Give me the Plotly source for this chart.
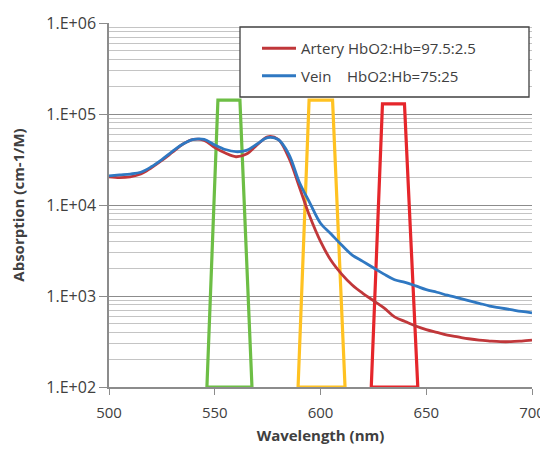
import plotly.graph_objects as go

wavelength = [500, 505, 510, 515, 520, 525, 530, 535, 540, 545, 550, 555, 560, 565, 570, 575,
              580, 585, 590, 595, 600, 605, 610, 615, 620, 625, 630, 635, 640, 645, 650, 655,
              660, 665, 670, 675, 680, 685, 690, 695, 700]

artery = [20400, 20000, 20400, 21900, 25700, 30900, 38000, 46800, 52500, 51300, 42700, 37200,
          33900, 36300, 45700, 56200, 52500, 33100, 15800, 7410, 3980, 2450, 1740, 1320, 1070,
          891, 741, 589, 525, 468, 427, 398, 372, 355, 339, 327, 320, 315, 315, 320, 327]

vein = [20900, 21400, 21900, 22900, 26300, 31600, 38900, 46800, 52500, 52500, 45700, 40700,
        38500, 39800, 46800, 55000, 52500, 36300, 17800, 10500, 6310, 4790, 3630, 2820, 2400,
        2040, 1740, 1510, 1410, 1290, 1175, 1100, 1020, 955, 891, 832, 776, 741, 708, 676, 653]

# filter passbands (trapezoids): bottom-left, top-left, top-right, bottom-right
filter_x = [[546.3, 551.5, 561.9, 567.6], [589.4, 594.6, 605.7, 611.6], [624.0, 629.3, 639.7, 646.0]]
filter_y = [[100, 142000, 142000, 100], [100, 142000, 142000, 100], [100, 129000, 129000, 100]]
filter_colors = ["#6DBE45", "#FFC222", "#E5262B"]

y_ticks = [100, 1000, 10000, 100000, 1000000]
y_labels = ["1.E+02", "1.E+03", "1.E+04", "1.E+05", "1.E+06"]
x_ticks = [500, 550, 600, 650, 700]

fig = go.Figure()

for fx, fy, col in zip(filter_x, filter_y, filter_colors):
    fig.add_trace(go.Scatter(x=fx + [fx[0]], y=fy + [fy[0]], mode="lines",
                             line=dict(color=col, width=3.2), showlegend=False,
                             hoverinfo="skip"))

fig.add_trace(go.Scatter(x=wavelength, y=artery, mode="lines",
                         line=dict(color="#C0373A", width=2.8, shape="spline"),
                         name="Artery HbO2:Hb=97.5:2.5", legendgroup="a"))
fig.add_trace(go.Scatter(x=wavelength, y=vein, mode="lines",
                         line=dict(color="#2F78C2", width=2.8, shape="spline"),
                         name="Vein&nbsp;&nbsp;&nbsp;&nbsp;HbO2:Hb=75:25", legendgroup="v"))

minor_vals = [m * 10 ** e for e in range(2, 6) for m in range(2, 10)]

# page body has an 8px margin: figure sized to fit the window
W, H = 540, 443
L, R, T, B = 101, 16, 15, 64
pw, ph = W - L - R, H - T - B


def px(x):
    return (x - 8 - L) / pw


def py(y):
    return 1 - (y - 8 - T) / ph


fig.update_layout(
    width=W, height=H,
    margin=dict(l=L, r=R, t=T, b=B),
    paper_bgcolor="white", plot_bgcolor="white",
    font=dict(family="Open Sans", color="#404040", size=15),
    legend=dict(x=px(257), y=py(32), xanchor="left", yanchor="top",
                borderwidth=0, bgcolor="rgba(0,0,0,0)",
                font=dict(size=15, color="#404040"), itemwidth=34,
                tracegroupgap=5),
    shapes=[dict(type="rect", xref="paper", yref="paper",
                 x0=px(240), x1=px(529), y0=py(97), y1=py(27),
                 line=dict(color="#404040", width=1.3), fillcolor="white", layer="above")],
    xaxis=dict(range=[500, 700], tickvals=x_ticks, showgrid=False, automargin=False,
               showline=True, linecolor="#8C8C8C", linewidth=1.5,
               ticks="outside", ticklen=6, tickcolor="#8C8C8C", ticklabelstandoff=5,
               tickfont=dict(size=15, color="#404040"),
               title=dict(text="<b>Wavelength (nm)</b>", font=dict(size=15, color="#404040"), standoff=10),
               zeroline=False),
    yaxis=dict(type="log", range=[2, 6], tickvals=y_ticks, ticktext=y_labels, automargin=False,
               showgrid=True, gridcolor="#8C8C8C", gridwidth=1.2,
               showline=True, linecolor="#8C8C8C", linewidth=1.5,
               ticks="outside", ticklen=8, tickcolor="#8C8C8C",
               tickfont=dict(size=16, color="#404040"),
               minor=dict(tickvals=minor_vals, showgrid=True, gridcolor="#C4C4C4", gridwidth=1, ticks=""),
               title=dict(text="<b>Absorption (cm-1/M)</b>", font=dict(size=15, color="#404040"), standoff=20),
               zeroline=False),
)

fig.write_html("out.html")
